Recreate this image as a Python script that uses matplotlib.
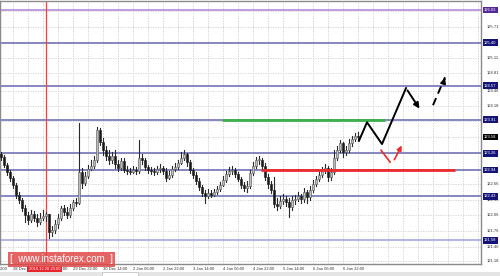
import numpy as np
import matplotlib
matplotlib.use("Agg")
import matplotlib.pyplot as plt
from matplotlib.patches import Rectangle

# price bars (one per slot)
closes = [123.19, 123.03, 122.90, 122.78, 122.65, 122.45, 122.36, 122.20, 122.07, 121.97,
          122.09, 122.01, 121.93, 122.01, 122.05, 122.09, 121.74, 121.78, 121.89, 122.01,
          122.20, 122.13, 122.07, 122.20, 122.32, 122.30, 122.90, 122.69, 122.82, 122.96,
          123.02, 123.13, 123.71, 123.48, 123.32, 123.21, 123.13, 123.21, 123.05, 122.98,
          123.11, 122.94, 122.92, 122.90, 122.94, 122.92, 123.17, 123.13, 123.00, 122.94,
          122.92, 122.90, 122.96, 122.98, 122.92, 122.78, 122.84, 122.96, 123.00, 123.07,
          123.17, 123.25, 123.09, 122.94, 122.84, 122.73, 122.61, 122.49, 122.44, 122.49,
          122.45, 122.51, 122.57, 122.65, 122.74, 122.86, 122.92, 122.94, 122.86, 122.76,
          122.65, 122.59, 122.63, 122.88, 123.02, 123.13, 123.13, 123.02, 122.80, 122.67,
          122.55, 122.28, 122.24, 122.34, 122.38, 122.32, 122.22, 122.36, 122.38, 122.44,
          122.38, 122.51, 122.42, 122.55, 122.67, 122.76, 122.84, 122.94, 122.98, 122.80,
          122.90, 123.17, 123.32, 123.46, 123.29, 123.32, 123.46, 123.54, 123.60, 123.58]
highs = [123.29, 123.23, 123.07, 122.94, 122.82, 122.69, 122.51, 122.40, 122.26, 122.13,
         122.16, 122.15, 122.09, 122.11, 122.16, 122.13, 122.09, 121.86, 121.97, 122.09,
         122.24, 122.26, 122.22, 122.28, 122.36, 122.40, 123.85, 122.98, 122.90, 123.03,
         123.13, 123.21, 123.77, 123.75, 123.56, 123.40, 123.32, 123.29, 123.32, 123.13,
         123.17, 123.17, 123.02, 122.98, 123.02, 123.00, 123.52, 123.25, 123.17, 123.03,
         123.00, 122.98, 123.02, 123.05, 123.02, 122.98, 122.92, 123.02, 123.07, 123.13,
         123.29, 123.32, 123.27, 123.13, 122.98, 122.90, 122.78, 122.65, 122.55, 122.57,
         122.55, 122.57, 122.63, 122.71, 122.82, 122.92, 123.00, 123.02, 122.98, 122.90,
         122.80, 122.71, 122.73, 122.94, 123.09, 123.19, 123.21, 123.17, 123.07, 122.86,
         122.73, 122.80, 122.40, 122.44, 122.47, 122.44, 122.40, 122.44, 122.45, 122.51,
         122.47, 122.59, 122.55, 122.63, 122.74, 122.82, 122.90, 123.00, 123.05, 123.02,
         122.98, 123.32, 123.40, 123.52, 123.48, 123.40, 123.54, 123.60, 123.65, 123.67]
lows = [123.13, 123.00, 122.84, 122.73, 122.59, 122.40, 122.30, 122.15, 121.93, 121.89,
        121.93, 121.95, 121.86, 121.89, 121.97, 121.95, 121.62, 121.66, 121.72, 121.82,
        121.97, 122.07, 122.01, 122.03, 122.16, 122.24, 122.28, 122.59, 122.65, 122.78,
        122.94, 122.98, 123.09, 123.42, 123.23, 123.13, 123.05, 123.07, 122.98, 122.92,
        122.94, 122.90, 122.86, 122.86, 122.88, 122.86, 122.88, 123.05, 122.94, 122.88,
        122.86, 122.84, 122.86, 122.90, 122.86, 122.73, 122.76, 122.80, 122.92, 122.96,
        123.05, 123.13, 123.02, 122.88, 122.78, 122.67, 122.55, 122.44, 122.30, 122.40,
        122.42, 122.44, 122.47, 122.53, 122.63, 122.71, 122.82, 122.86, 122.80, 122.73,
        122.59, 122.53, 122.51, 122.59, 122.84, 122.98, 123.05, 122.94, 122.74, 122.59,
        122.49, 122.22, 122.16, 122.20, 122.28, 122.24, 122.03, 122.16, 122.28, 122.34,
        122.30, 122.32, 122.30, 122.36, 122.51, 122.63, 122.73, 122.80, 122.88, 122.73,
        122.74, 122.86, 123.13, 123.29, 123.19, 123.23, 123.29, 123.40, 123.50, 123.52]
opens = [123.25] + closes[:-1]

# horizontal levels and their label colours
levels = [126.03, 125.40, 124.57, 123.91, 123.26, 122.94, 122.43, 121.58]
level_colors = ['#b48ad8', '#7272b8', '#7272b8', '#7272b8', '#7272b8', '#7272b8', '#7272b8', '#a8a8e0']
level_box = ['#55289a', '#141478', '#141478', '#141478', '#141478', '#141478', '#141478', '#141478']
current_price = 123.58

tick_prices = [125.71, 125.11, 124.81, 124.46, 124.18, 123.88, 122.66, 122.36,
               122.06, 121.76, 121.46, 121.18]
grid_prices = [126.01, 125.71, 125.41, 125.11, 124.81, 124.46, 124.18, 123.88, 123.58,
               123.26, 122.96, 122.66, 122.36, 122.06, 121.76, 121.46, 121.18]
time_labels = ['28 Dec 14:00', '29 Dec 06:00', '29 Dec 22:00', '30 Dec 14:00',
               '2 Jan 06:00', '2 Jan 22:00', '3 Jan 14:00', '4 Jan 06:00',
               '4 Jan 22:00', '5 Jan 14:00', '6 Jan 06:00', '6 Jan 22:00']

# drawn forecast
path_x = [119.3, 122, 127, 135, 140]
path_y = [123.50, 123.86, 123.44, 124.52, 124.08]
dash_x = [144, 148]
dash_y = [124.19, 124.73]
red1_x = [126.7, 129.7]
red1_y = [123.32, 123.09]
red2_x = [130.7, 134]
red2_y = [123.09, 123.46]
green_x = [73.7, 128]
green_y = 123.90
red_x = [86.7, 151.3]
red_y = 122.94
cross_bar = 15

W, H = 500, 276
FS = 3.0
plt.rcParams['font.family'] = ['Liberation Sans', 'DejaVu Sans']
fig = plt.figure(figsize=(5, 2.76), dpi=100)
fig.patch.set_facecolor('white')
ax = fig.add_axes([0, 1 - 264 / H, 481 / W, 263 / H])
ax.set_xlim(-0.333, 160)
ax.set_ylim(121.122, 126.204)
ax.set_xticks([])
ax.set_yticks([])
for s in ax.spines.values():
    s.set_color('#8a8a8a')
    s.set_linewidth(1)

# dotted grid
for gx in np.arange(-1, 161, 5):
    ax.axvline(gx, color='#cfcfcf', lw=0.6, ls=(0, (1.5, 1.5)), zorder=0)
for gy in grid_prices:
    ax.axhline(gy, color='#cfcfcf', lw=0.6, ls=(0, (1.5, 1.5)), zorder=0)

for lv, c in zip(levels, level_colors):
    ax.axhline(lv, color=c, lw=1.2, zorder=1)

ax.axvline(cross_bar, color='#ff3c3c', lw=0.9, zorder=2)

# candles
xs = np.arange(len(closes))
for x, o, h, l, c in zip(xs, opens, highs, lows, closes):
    ax.plot([x, x], [l, h], color='#2a2a2a', lw=0.8, zorder=3)
    up = c >= o
    ax.add_patch(Rectangle((x - 0.4, min(o, c)), 0.8, max(abs(c - o), 0.012),
                           facecolor='#bdbdbd' if up else '#1a1a1a',
                           edgecolor='#555555' if up else '#1a1a1a', lw=0.4, zorder=4))

ax.plot(green_x, [green_y, green_y], color='#3cb04a', lw=2, zorder=5, solid_capstyle='butt')
ax.plot(red_x, [red_y, red_y], color='#ee2a2a', lw=2, zorder=5, solid_capstyle='butt')

ax.plot(path_x[:-1], path_y[:-1], color='black', lw=1.4, zorder=6)
ax.annotate('', xy=(path_x[-1], path_y[-1]), xytext=(path_x[-2], path_y[-2]),
            arrowprops=dict(arrowstyle='-|>', color='black', lw=1.4, mutation_scale=8), zorder=6)
ax.plot(dash_x, dash_y, color='black', lw=1.4, ls=(0, (4, 2.5)), zorder=6)
ax.annotate('', xy=(dash_x[1] + 0.3, dash_y[1] + 0.04), xytext=(dash_x[1] - 0.5, dash_y[1] - 0.1),
            arrowprops=dict(arrowstyle='-|>', color='black', lw=1.2, mutation_scale=8), zorder=6)
ax.plot(red1_x, red1_y, color='#ee2a2a', lw=1.2, zorder=6)
ax.annotate('', xy=(red2_x[1], red2_y[1]), xytext=(red2_x[0], red2_y[0]),
            arrowprops=dict(arrowstyle='-|>', color='#ee2a2a', lw=1.2, mutation_scale=7), zorder=6)

# right price scale
ty = ax.get_yaxis_transform()
for p in tick_prices:
    ax.text(1.012, p, f'{p:.2f}', transform=ty, fontsize=FS, color='#333333',
            va='center', ha='left', clip_on=False)
for lv, bc in zip(levels, level_box):
    ax.text(1.006, lv, f'{lv:.2f}', transform=ty, fontsize=FS, color='white',
            va='center', ha='left', clip_on=False,
            bbox=dict(boxstyle='square,pad=0.3', fc=bc, ec='none'))
ax.text(1.006, current_price, f'{current_price:.2f}', transform=ty, fontsize=FS,
        color='white', va='center', ha='left', clip_on=False,
        bbox=dict(boxstyle='square,pad=0.3', fc='black', ec='none'))

# time labels
tx = ax.get_xaxis_transform()
ax.text(-0.333, -0.012, '2:00', transform=tx, fontsize=FS, color='#333333',
        va='top', ha='left', clip_on=False)
for i, lab in enumerate(time_labels):
    ax.text(4 + 10 * i, -0.012, lab, transform=tx, fontsize=FS, color='#333333',
            va='top', ha='left', clip_on=False)
ax.text(9.3, -0.012, '2016.12.28 20:00', transform=tx, fontsize=FS, color='white',
        va='top', ha='left', clip_on=False,
        bbox=dict(boxstyle='square,pad=0.35', fc='#e8242c', ec='none'), zorder=10)

# bottom strip
fig.patches.append(Rectangle((0, 0), 1, 4 / H, transform=fig.transFigure,
                             fc='#e4e4e4', ec='none', zorder=0))
fig.patches.append(Rectangle((102 / W, 0), 36 / W, 4 / H, transform=fig.transFigure,
                             fc='white', ec='#bdbdbd', lw=0.5, zorder=1))

# watermark
fig.patches.append(Rectangle((8 / W, 1 - 267 / H), 107 / W, 15 / H, transform=fig.transFigure,
                             fc='#e04848', ec='none', alpha=0.85, zorder=20))
fig.text(61 / W, 1 - 259.5 / H, '[  www.instaforex.com  ]', fontsize=7, color='white',
         ha='center', va='center', zorder=21)

fig.savefig('out.png', dpi=100)
